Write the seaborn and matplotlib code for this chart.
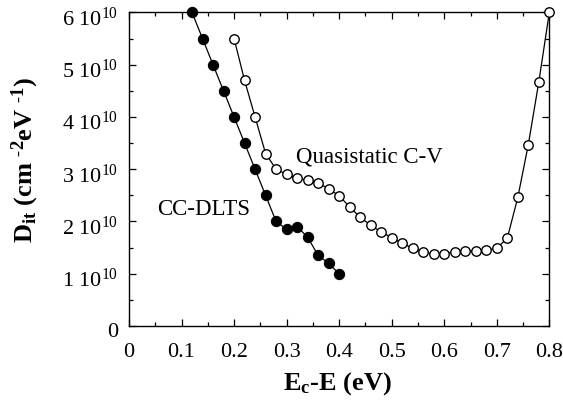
import numpy as np
import pandas as pd
import matplotlib
matplotlib.use("Agg")
import matplotlib.pyplot as plt
import matplotlib.transforms as mtransforms
from matplotlib.ticker import MultipleLocator, FixedLocator, FixedFormatter
import seaborn as sns

# ---- data (D_it in units of 1e10 cm^-2 eV^-1) ----
dlts_x = [0.12, 0.14, 0.16, 0.18, 0.20, 0.22, 0.24, 0.26, 0.28, 0.30, 0.32, 0.34, 0.36, 0.38, 0.40]
dlts_y = [6.0, 5.5, 5.0, 4.5, 4.0, 3.5, 3.0, 2.5, 2.0, 1.85, 1.9, 1.7, 1.35, 1.2, 1.0]

cv_x = [0.20, 0.22, 0.24, 0.26, 0.28, 0.30, 0.32, 0.34, 0.36, 0.38, 0.40, 0.42, 0.44, 0.46, 0.48,
        0.50, 0.52, 0.54, 0.56, 0.58, 0.60, 0.62, 0.64, 0.66, 0.68, 0.70, 0.72, 0.74, 0.76, 0.78, 0.80]
cv_y = [5.5, 4.7, 4.0, 3.3, 3.0, 2.9, 2.83, 2.79, 2.73, 2.63, 2.49, 2.28, 2.08, 1.93, 1.8,
        1.69, 1.58, 1.49, 1.42, 1.37, 1.38, 1.42, 1.44, 1.44, 1.45, 1.49, 1.68, 2.46, 3.47, 4.67, 6.0]

x_ticks = [0, 0.1, 0.2, 0.3, 0.4, 0.5, 0.6, 0.7, 0.8]
x_tick_labels = ["0", "0.1", "0.2", "0.3", "0.4", "0.5", "0.6", "0.7", "0.8"]
y_ticks = [0, 1, 2, 3, 4, 5, 6]
y_tick_labels = ["0", r"1 10$^{10}$", r"2 10$^{10}$", r"3 10$^{10}$", r"4 10$^{10}$",
                 r"5 10$^{10}$", r"6 10$^{10}$"]

sns.set_theme(style="ticks")
plt.rcParams["font.family"] = ["Liberation Serif", "DejaVu Serif"]
plt.rcParams["mathtext.fontset"] = "custom"
plt.rcParams["mathtext.rm"] = "Liberation Serif"
plt.rcParams["mathtext.it"] = "Liberation Serif:italic"
plt.rcParams["mathtext.bf"] = "Liberation Serif:bold"
plt.rcParams["text.color"] = "black"
plt.rcParams["axes.labelcolor"] = "black"

fig = plt.figure(figsize=(5.63, 4.04), dpi=100)
ax = fig.add_axes([0.2291, 0.1931, 0.9757 - 0.2291, 0.9691 - 0.1931])

df_d = pd.DataFrame({"x": dlts_x, "y": dlts_y})
df_c = pd.DataFrame({"x": cv_x, "y": cv_y})

sns.lineplot(data=df_d, x="x", y="y", ax=ax, color="black", linewidth=0.9,
             marker="o", markersize=7.4, markerfacecolor="black", markeredgecolor="black",
             sort=False, errorbar=None, clip_on=False, zorder=3)
sns.lineplot(data=df_c, x="x", y="y", ax=ax, color="black", linewidth=0.9,
             marker="o", markersize=6.8, markerfacecolor="white", markeredgecolor="black",
             markeredgewidth=1.0, sort=False, errorbar=None, clip_on=False, zorder=3)

ax.set_xlim(0, 0.8)
ax.set_ylim(0, 6)

ax.xaxis.set_major_locator(FixedLocator(x_ticks))
ax.xaxis.set_major_formatter(FixedFormatter(x_tick_labels))
ax.xaxis.set_minor_locator(MultipleLocator(0.05))
ax.yaxis.set_major_locator(FixedLocator(y_ticks))
ax.yaxis.set_major_formatter(FixedFormatter(y_tick_labels))
ax.yaxis.set_minor_locator(MultipleLocator(0.5))

ax.tick_params(which="both", direction="in", top=True, right=True, colors="black",
               width=0.9)
ax.tick_params(which="major", length=5)
ax.tick_params(which="minor", length=3)
ax.tick_params(axis="x", which="major", labelsize=16, pad=12)
ax.tick_params(axis="y", which="major", labelsize=16, pad=8)

for sp in ax.spines.values():
    sp.set_visible(True)
    sp.set_color("black")
    sp.set_linewidth(1.0)

ax.set_xlabel(r"E$_{\mathbf{c}}$-E (eV)", fontsize=19, fontweight="bold", color="black")
ax.set_ylabel(r"D$_{\mathbf{it}}$ (cm $^{\text{-}\mathbf{2}}$eV $^{\text{-}\mathbf{1}}$)",
              fontsize=19, fontweight="bold", color="black")
ax.xaxis.set_label_coords(0.495, -0.14)
ax.yaxis.set_label_coords(-0.21, 0.53)

ax.text(0.053, 2.13, "CC-DLTS", fontsize=16.5, ha="left", va="baseline", color="black")
ax.text(0.318, 3.12, "Quasistatic C-V", fontsize=16.5, ha="left", va="baseline", color="black")

# y tick labels sit slightly below their ticks in the original
offset = mtransforms.ScaledTranslation(0, -4 / 100, fig.dpi_scale_trans)
for lab in ax.get_yticklabels():
    lab.set_transform(lab.get_transform() + offset)

fig.savefig("out.png", dpi=100, facecolor="white")
